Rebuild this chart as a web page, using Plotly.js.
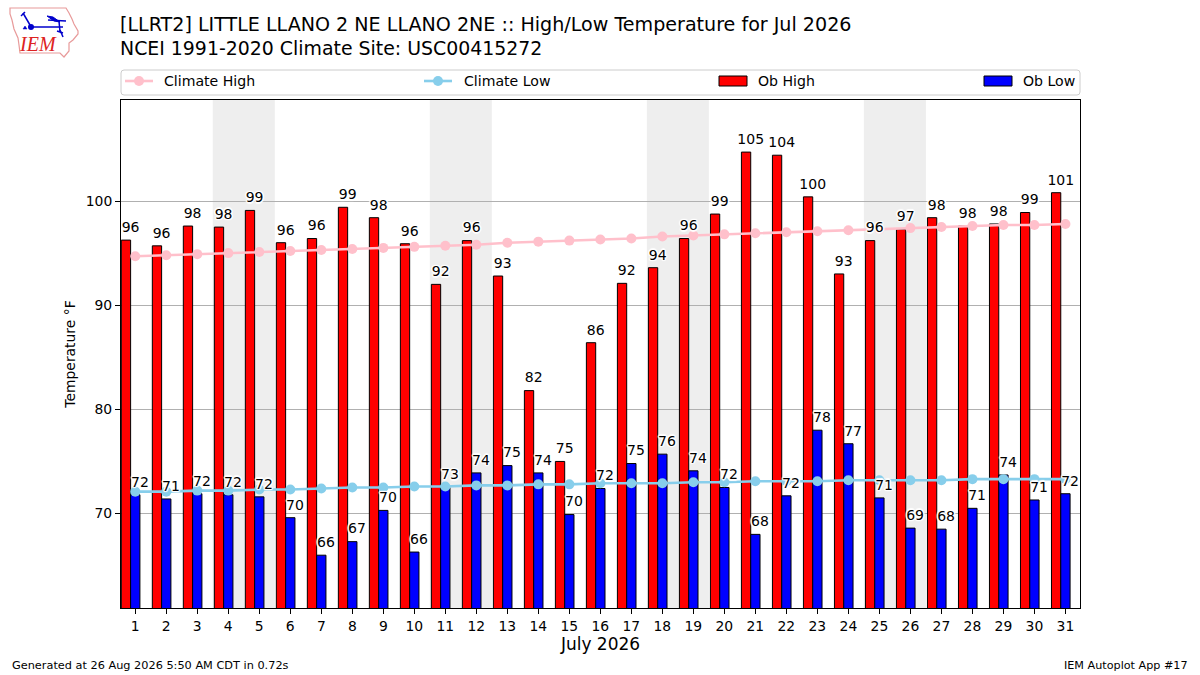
<!DOCTYPE html>
<html>
<head>
<meta charset="utf-8">
<script src="https://cdn.plot.ly/plotly-3.0.1.min.js"></script>
<style>
  html, body { margin: 0; padding: 0; background: #fff; }
  #chart { width: 1200px; height: 675px; }
</style>
</head>
<body>
<div id="chart"></div>
<script>
const days = [1, 2, 3, 4, 5, 6, 7, 8, 9, 10, 11, 12, 13, 14, 15, 16, 17, 18, 19, 20, 21, 22, 23, 24, 25, 26, 27, 28, 29, 30, 31];
const obHigh = [96.25, 95.7, 97.6, 97.5, 99.1, 96.0, 96.4, 99.4, 98.4, 95.9, 92.0, 96.2, 92.8, 81.8, 75.0, 86.4, 92.1, 93.6, 96.4, 98.75, 104.7, 104.4, 100.4, 93.0, 96.2, 97.3, 98.4, 97.6, 97.8, 98.9, 100.8];
const obLow = [71.8, 71.4, 71.9, 71.8, 71.6, 69.6, 66.0, 67.3, 70.3, 66.3, 72.5, 73.9, 74.6, 73.9, 69.9, 72.4, 74.8, 75.7, 74.1, 72.5, 68.0, 71.7, 78.0, 76.7, 71.5, 68.6, 68.5, 70.5, 73.7, 71.3, 71.9];
const highLabels = [96, 96, 98, 98, 99, 96, 96, 99, 98, 96, 92, 96, 93, 82, 75, 86, 92, 94, 96, 99, 105, 104, 100, 93, 96, 97, 98, 98, 98, 99, 101];
const lowLabels = [72, 71, 72, 72, 72, 70, 66, 67, 70, 66, 73, 74, 75, 74, 70, 72, 75, 76, 74, 72, 68, 72, 78, 77, 71, 69, 68, 71, 74, 71, 72];
const climateHigh = [94.7, 94.8, 94.9, 95.0, 95.1, 95.2, 95.3, 95.4, 95.5, 95.6, 95.7, 95.8, 96.0, 96.1, 96.2, 96.3, 96.4, 96.6, 96.7, 96.8, 96.9, 97.0, 97.1, 97.2, 97.3, 97.4, 97.5, 97.6, 97.7, 97.7, 97.8];
const climateLow = [72.1, 72.1, 72.2, 72.2, 72.3, 72.3, 72.4, 72.5, 72.5, 72.6, 72.6, 72.7, 72.7, 72.8, 72.8, 72.9, 72.9, 72.9, 73.0, 73.0, 73.1, 73.1, 73.1, 73.2, 73.2, 73.2, 73.2, 73.3, 73.3, 73.3, 73.3];
const weekends = [[3.5, 5.5], [10.5, 12.5], [17.5, 19.5], [24.5, 26.5]];

const FONT = 'DejaVu Sans, sans-serif';
const PLOT_L = 121, PLOT_R = 1080, PLOT_T = 100, PLOT_B = 608;
const LABEL_LIFT = 0.45; // degrees between bar top and its label

// page pixels -> paper fractions, for the stuff that lives outside the axes
const px = (x) => (x - PLOT_L) / (PLOT_R - PLOT_L);
const py = (y) => (PLOT_B - y) / (PLOT_B - PLOT_T);
const pathOf = (pts, close) => pts.map((p, i) => `${i ? 'L' : 'M'}${px(p[0])},${py(p[1])}`).join(' ') + (close ? ' Z' : '');
const paperShape = (extra) => ({ xref: 'paper', yref: 'paper', ...extra });
const note = (x, y, text, size, anchor, extra) => ({
  xref: 'paper', yref: 'paper', x: px(x), y: py(y), text, showarrow: false,
  xanchor: anchor, yanchor: 'middle', font: { family: FONT, size, color: '#000' }, ...extra,
});

const labelFont = {
  family: FONT, size: 14, color: '#000',
  shadow: '1.5px 0 1px #fff, -1.5px 0 1px #fff, 0 1.5px 1px #fff, 0 -1.5px 1px #fff, 1px 1px 1px #fff, -1px -1px 1px #fff, 1px -1px 1px #fff, -1px 1px 1px #fff',
};

const data = [
  {
    type: 'bar', name: 'Ob High', x: days, y: obHigh, width: 0.3, offset: -0.45,
    marker: { color: '#ff0000', line: { color: '#000', width: 1 } },
  },
  {
    type: 'bar', name: 'Ob Low', x: days, y: obLow, width: 0.3, offset: -0.15,
    marker: { color: '#0000ff', line: { color: '#000', width: 1 } },
  },
  {
    type: 'scatter', mode: 'lines+markers', name: 'Climate High', x: days, y: climateHigh,
    line: { color: 'pink', width: 2.6 }, marker: { color: 'pink', size: 10 },
  },
  {
    type: 'scatter', mode: 'lines+markers', name: 'Climate Low', x: days, y: climateLow,
    line: { color: 'skyblue', width: 2.6 }, marker: { color: 'skyblue', size: 10 },
  },
  {
    type: 'scatter', mode: 'text', x: days.map((d) => d - 0.15), y: obHigh.map((v) => v + LABEL_LIFT), text: highLabels.map(String),
    textposition: 'top center', textfont: labelFont, cliponaxis: false,
  },
  {
    type: 'scatter', mode: 'text', x: days.map((d) => d + 0.15), y: obLow.map((v) => v + LABEL_LIFT), text: lowLabels.map(String),
    textposition: 'top center', textfont: labelFont, cliponaxis: false,
  },
];

const shapes = weekends.map((w) => ({
  type: 'rect', xref: 'x', yref: 'paper', x0: w[0], x1: w[1], y0: 0, y1: 1,
  fillcolor: '#eeeeee', line: { width: 0 }, layer: 'below',
}));

// legend frame and keys
shapes.push(paperShape({
  type: 'path',
  path: `M${px(124)},${py(70)} L${px(1077)},${py(70)} Q${px(1080)},${py(70)} ${px(1080)},${py(73)} L${px(1080)},${py(92)} Q${px(1080)},${py(95)} ${px(1077)},${py(95)} L${px(124)},${py(95)} Q${px(121)},${py(95)} ${px(121)},${py(92)} L${px(121)},${py(73)} Q${px(121)},${py(70)} ${px(124)},${py(70)} Z`,
  line: { color: '#cccccc', width: 1 }, fillcolor: '#ffffff',
}));
const lineKey = (x0, color) => {
  shapes.push(paperShape({ type: 'line', x0: px(x0), x1: px(x0 + 28), y0: py(81), y1: py(81), line: { color, width: 2.6 } }));
  shapes.push(paperShape({ type: 'circle', x0: px(x0 + 9), x1: px(x0 + 19), y0: py(76), y1: py(86), fillcolor: color, line: { width: 0 } }));
};
const barKey = (x0, color) => {
  shapes.push(paperShape({ type: 'rect', x0: px(x0), x1: px(x0 + 28), y0: py(76), y1: py(86), fillcolor: color, line: { color: '#000', width: 1 } }));
};
lineKey(125, 'pink');
lineKey(424, 'skyblue');
barKey(719, '#ff0000');
barKey(984, '#0000ff');

// IEM logo, Iowa outline and the weather station
const outline = [[10, 8], [66, 8], [69, 13], [72, 19], [74, 24], [78, 31], [78, 34], [73, 40], [69, 43], [69, 51], [64, 57], [60, 53], [20, 53], [19, 45], [18, 38], [14, 29], [12, 20], [10, 14]];
shapes.push(paperShape({ type: 'path', path: pathOf(outline, true), line: { color: '#e89a9a', width: 1.2 } }));
const station = [
  [[31, 27], [63, 27]], [[48, 20], [66, 21]], [[59, 21], [60, 32]], [[60, 30], [63, 37]],
  [[23, 13], [30, 25]], [[21, 16], [25, 12]], [[57, 31], [63, 33]],
];
station.forEach((seg) => shapes.push(paperShape({ type: 'path', path: pathOf(seg, false), line: { color: '#0000cc', width: 1.5 } })));
shapes.push(paperShape({ type: 'path', path: pathOf([[47, 16], [53, 17], [60, 22], [54, 21]], true), fillcolor: '#0000cc', line: { color: '#0000cc', width: 1 } }));
shapes.push(paperShape({ type: 'circle', x0: px(28), x1: px(34), y0: py(24), y1: py(30), fillcolor: '#0000cc', line: { width: 0 } }));
shapes.push(paperShape({ type: 'path', path: pathOf([[23, 29], [25, 26], [27, 29]], true), fillcolor: '#0000cc', line: { color: '#0000cc', width: 0.5 } }));

const annotations = [
  note(118, 48, 'NCEI 1991-2020 Climate Site: USC00415272', 18.9, 'left'),
  note(162, 81, 'Climate High', 14.1, 'left'),
  note(462, 81, 'Climate Low', 14.1, 'left'),
  note(756, 81, 'Ob High', 14.1, 'left'),
  note(1077, 81, 'Ob Low', 14.1, 'right'),
  note(37.5, 44.5, '<i>IEM</i>', 20, 'center', { font: { family: 'Liberation Serif, serif', size: 20, color: '#dd2222' } }),
  note(10, 665, 'Generated at 26 Aug 2026 5:50 AM CDT in 0.72s', 11.3, 'left'),
  note(1190, 665, 'IEM Autoplot App #17', 11.2, 'right'),
];

const layout = {
  width: 1200,
  height: 675,
  margin: { l: PLOT_L, r: 1200 - PLOT_R, t: PLOT_T, b: 675 - PLOT_B, pad: 0 },
  paper_bgcolor: '#fff',
  plot_bgcolor: '#fff',
  font: { family: FONT, size: 13.9, color: '#000' },
  showlegend: false,
  barmode: 'overlay',
  title: {
    text: '[LLRT2] LITTLE LLANO 2 NE LLANO 2NE :: High/Low Temperature for Jul 2026',
    font: { family: FONT, size: 19.1, color: '#000' },
    xref: 'container', x: 0.1, xanchor: 'left', yref: 'container', y: 0.974, yanchor: 'top',
  },
  xaxis: {
    range: [0.54, 31.47], tickmode: 'array', tickvals: days, ticktext: days.map(String),
    ticks: 'outside', ticklen: 5, tickcolor: '#000', showgrid: false, zeroline: false,
    showline: true, linecolor: '#000', linewidth: 1, mirror: true,
    tickfont: { size: 13.9 },
    title: { text: 'July 2026', font: { size: 17 }, standoff: 5 },
  },
  yaxis: {
    range: [60.93, 109.7], tickmode: 'array', tickvals: [70, 80, 90, 100],
    ticks: 'outside', ticklen: 5, tickcolor: '#000', showgrid: true, gridcolor: '#b0b0b0', gridwidth: 1, zeroline: false,
    showline: true, linecolor: '#000', linewidth: 1, mirror: true,
    tickfont: { size: 13.9 },
    title: { text: 'Temperature °F', font: { size: 13.9 }, standoff: 6 },
  },
  shapes,
  annotations,
};

Plotly.newPlot('chart', data, layout, { displayModeBar: false, responsive: false });
</script>
</body>
</html>
